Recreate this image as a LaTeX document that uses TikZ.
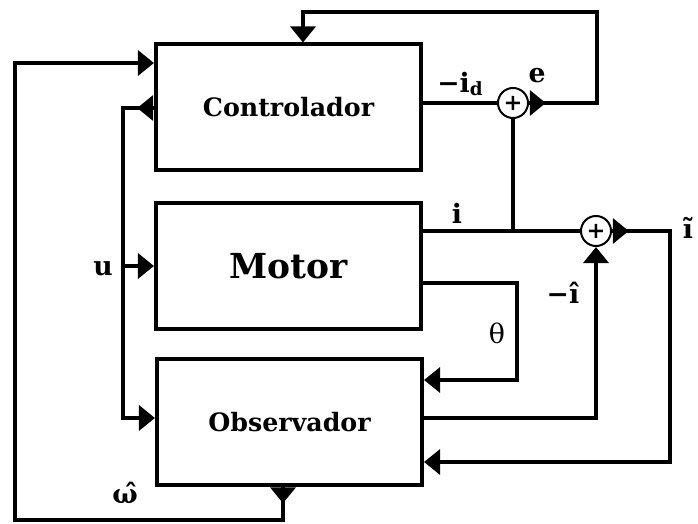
\documentclass[tikz,border=0pt]{standalone}
\usepackage{fontspec}
\setmainfont{DejaVu Serif}
\usetikzlibrary{arrows.meta, positioning, calc, decorations.markings}

\begin{document}
\begin{tikzpicture}[x=0.025cm, y=-0.025cm, line width=0.1cm,
  every node/.style={font=\bfseries\fontsize{19}{21}\selectfont},
  blocknode/.style={rectangle, draw, line width=0.1cm, minimum width=6.625cm, minimum height=3.125cm, font=\bfseries\fontsize{18}{20}\selectfont},
  sumnode/.style={circle, draw, line width=0.05cm, fill=white, minimum size=0.75cm, inner sep=0pt, font=\bfseries\fontsize{16}{18}\selectfont},
  tip/.style={-{Triangle[width=0.62cm,length=0.4cm]}},
  tipout/.style={postaction={decorate}, decoration={markings, mark=at position 0.42cm with {\arrow{Triangle[width=0.62cm,length=0.4cm]}}}},
]
\useasboundingbox (0,0) rectangle (698,524);
% blocks
\node[blocknode] (ctrl) at (288.5,107) {Controlador};
\node[blocknode, font=\bfseries\fontsize{24.5}{28}\selectfont] (motor) at (288.5,266) {Motor};
\node[blocknode] (obs) at (289.5,422) {Observador};
\node[sumnode] (sum1) at (513,103) {+};
\node[sumnode] (sum2) at (596,231) {+};
% corners of the connectors
\coordinate (jn) at (513,231);
\coordinate (ecorner) at (597,12);
\coordinate (tcorner) at (670,462);
\coordinate (thcorner) at (517,380);
\coordinate (ucorner) at (123,418);
\coordinate (ubranch) at (123,266);
\coordinate (wcorner) at (15,520);
% connectors
\draw (ctrl.east |- sum1) -- (sum1);
\draw[tip, tipout] (sum1.east) -| (ecorner) -| ($(ctrl.north)+(14.5,0)$);
\draw (sum1.south) -- (jn);
\draw (motor.east |- sum2) -- (sum2);
\draw[tip, tipout] (sum2.east) -| (tcorner) -- (obs.east |- tcorner);
\draw[tip] ($(motor.east)+(0,17)$) -| (thcorner) -- (obs.east |- thcorner);
\draw[tip] ($(obs.east)+(0,-4)$) -| (sum2.south);
\draw[tip, tipout] ($(ctrl.west)+(0,1)$) -| (ucorner) -- (obs.west |- ucorner);
\draw[tip] (ubranch) -- (motor.west);
\draw[tip, tipout] ($(obs.south)+(-6.5,0)$) |- (wcorner) |- ($(ctrl.west)+(0,-44)$);
% labels
\node (lid) at (460,84) {−i\raisebox{-0.25ex}{\fontsize{13}{13}\selectfont d}};
\node (le) at (537,76) {e};
\node (li) at (457,213) {i};
\node (lit) at (688,228) {ĩ};
\node (lih) at (563,293) {−î};
\node[font=\mdseries\fontsize{19}{21}\selectfont] (lth) at (497,333) {θ};
\node (lu) at (103,269) {u};
\node (lw) at (125,493) {ω̂};
\end{tikzpicture}
\end{document}
